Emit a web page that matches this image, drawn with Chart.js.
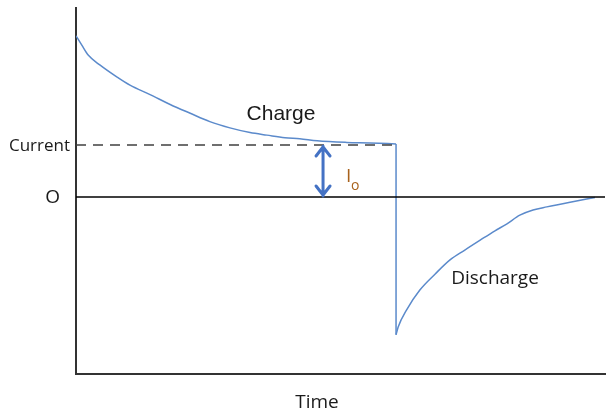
<!DOCTYPE html>
<html>
<head>
<meta charset="utf-8">
<script src="https://cdn.jsdelivr.net/npm/chart.js@4/dist/chart.umd.min.js"></script>
<style>
  html, body { margin: 0; padding: 0; background: #fff; }
  #wrap { width: 606px; height: 414px; position: relative; }
</style>
</head>
<body>
<div id="wrap"><canvas id="c" width="606" height="414"></canvas></div>
<script>
// ---- Data (time in arbitrary units 0..100, current in units of I0) ----
const chargeTime    = [0, 1.1, 2.3, 4.5, 7.7, 10.2, 14.0, 17.8, 21.6, 25.3, 29.1, 32.9, 36.1, 39.5, 42.3, 45.6, 51.2, 55.6, 60.5];
const chargeCurrent = [3.10, 2.92, 2.73, 2.54, 2.31, 2.15, 1.97, 1.78, 1.61, 1.45, 1.33, 1.24, 1.19, 1.14, 1.12, 1.08, 1.05, 1.04, 1.02];
const dischargeTime    = [60.5, 60.9, 62.5, 65.0, 67.9, 70.7, 73.5, 76.4, 79.2, 81.4, 83.9, 86.4, 89.0, 93.4, 98.1];
const dischargeCurrent = [-2.65, -2.50, -2.17, -1.79, -1.48, -1.21, -1.02, -0.83, -0.65, -0.52, -0.35, -0.25, -0.19, -0.10, -0.01];
const steadyLevel = 1;        // I0 (dashed line level)
const switchTime = 60.5;      // time of switching from charge to discharge
const arrowTime = 46.7;       // where the I0 arrow is drawn
const yLabels = ["O", "Current"];   // labels at current 0 and I0
const xTitle = "Time";
const curveLabels = ["Charge", "Discharge"];

const chargePts = chargeTime.map((t, i) => ({x: t, y: chargeCurrent[i]}));
const dischargePts = dischargeTime.map((t, i) => ({x: t, y: dischargeCurrent[i]}));
const dropPts = [chargePts[chargePts.length - 1], dischargePts[0]];

const annot = {
  id: 'annot',
  afterDatasetsDraw(chart) {
    const {ctx, scales: {x, y}} = chart;
    ctx.save();
    ctx.fillStyle = '#1a1a1a';
    ctx.textBaseline = 'middle';
    // y labels
    ctx.textAlign = 'right';
    ctx.font = '17px "Open Sans"';
    ctx.fillText(yLabels[1], 70, y.getPixelForValue(steadyLevel) + 1);
    ctx.font = '19px "Open Sans"';
    ctx.fillText(yLabels[0], 60, y.getPixelForValue(0) + 1);
    // x title
    ctx.textAlign = 'center';
    ctx.font = '19px "Open Sans"';
    ctx.fillText(xTitle, 317, 403);
    // curve labels
    ctx.font = '21px "Liberation Sans"';
    ctx.fillText(curveLabels[0], 281, 114);
    ctx.font = '19px "Open Sans"';
    ctx.fillText(curveLabels[1], 495, 279);
    // I0 arrow
    const ax = x.getPixelForValue(arrowTime);
    const y1 = y.getPixelForValue(steadyLevel) + 1;
    const y0 = y.getPixelForValue(0) - 1;
    ctx.strokeStyle = '#4472C4';
    ctx.lineWidth = 3;
    ctx.lineCap = 'round';
    ctx.lineJoin = 'round';
    ctx.beginPath();
    ctx.moveTo(ax, y1); ctx.lineTo(ax, y0);
    ctx.moveTo(ax - 7, y1 + 10); ctx.lineTo(ax, y1 + 1); ctx.lineTo(ax + 7, y1 + 10);
    ctx.moveTo(ax - 7, y0 - 10); ctx.lineTo(ax, y0 - 1); ctx.lineTo(ax + 7, y0 - 10);
    ctx.stroke();
    // I0 label
    ctx.fillStyle = '#a8621c';
    ctx.textAlign = 'left';
    ctx.textBaseline = 'alphabetic';
    ctx.font = '19px "Open Sans"';
    ctx.fillText('I', 346, 182);
    ctx.font = '14px "Open Sans"';
    ctx.fillText('o', 351, 190);
    ctx.restore();
  }
};

const curveStyle = { borderColor: '#5B8ACB', borderWidth: 1.5, pointRadius: 0, cubicInterpolationMode: 'monotone' };

new Chart(document.getElementById('c'), {
  type: 'line',
  data: {
    datasets: [
      {
        label: 'Zero',
        data: [{x: 0, y: 0}, {x: 100, y: 0}],
        borderColor: '#000', borderWidth: 1.3, pointRadius: 0
      },
      {
        label: 'I0',
        data: [{x: 0, y: steadyLevel}, {x: switchTime, y: steadyLevel}],
        borderColor: '#404040', borderWidth: 1.5, borderDash: [10, 7], pointRadius: 0
      },
      Object.assign({ label: 'Charge', data: chargePts }, curveStyle),
      { label: 'Switch', data: dropPts, borderColor: '#5B8ACB', borderWidth: 1.5, pointRadius: 0 },
      Object.assign({ label: 'Discharge', data: dischargePts }, curveStyle)
    ]
  },
  options: {
    responsive: false,
    animation: false,
    devicePixelRatio: 1,
    layout: { padding: { top: 8, right: 1, left: 0, bottom: 0 } },
    plugins: { legend: { display: false }, tooltip: { enabled: false }, title: { display: false } },
    scales: {
      x: {
        type: 'linear', min: 0, max: 100,
        grid: { display: false, drawTicks: false },
        ticks: { display: false },
        border: { display: true, color: '#333', width: 2 },
        afterFit: s => { s.height = 40; }
      },
      y: {
        type: 'linear', min: -3.404, max: 3.635,
        grid: { display: false, drawTicks: false },
        ticks: { display: false },
        border: { display: true, color: '#333', width: 2 },
        afterFit: s => { s.width = 76; }
      }
    }
  },
  plugins: [annot]
});
</script>
</body>
</html>
